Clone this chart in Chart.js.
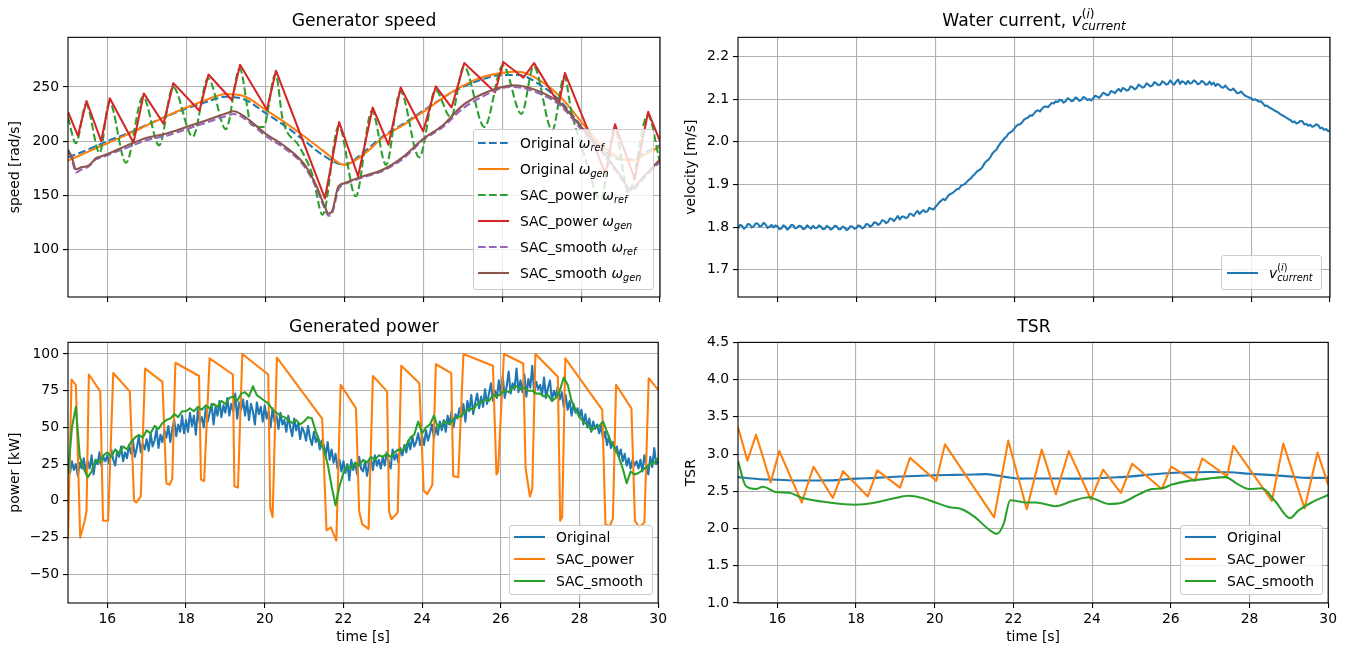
<!DOCTYPE html>
<html><head><meta charset="utf-8">
<script src="https://cdn.jsdelivr.net/npm/chart.js@4.4.1/dist/chart.umd.min.js"></script>
<style>
html,body{margin:0;padding:0;background:#fff;}
body{width:1352px;height:648px;position:relative;overflow:hidden;font-family:'DejaVu Sans',sans-serif;color:#000;}
canvas{position:absolute;}
.title{position:absolute;font-size:17.2px;line-height:20px;height:20px;text-align:center;white-space:nowrap;}
.leg{position:absolute;background:rgba(255,255,255,0.8);border:1px solid #cccccc;border-radius:3px;font-size:13.9px;box-sizing:border-box;}
.m{font-style:italic;}
.m sub{font-size:70%;vertical-align:-0.3em;line-height:0;}
.ssw{position:relative;}
.sb{font-size:70%;font-style:italic;position:relative;top:0.3em;}
.sp{font-size:70%;position:absolute;left:0;top:-0.2em;line-height:1;white-space:nowrap;}
</style></head>
<body>
<canvas id="c1" width="670" height="285" style="left:0px;top:25px"></canvas>
<canvas id="c2" width="664" height="285" style="left:676px;top:25px"></canvas>
<canvas id="c3" width="670" height="318" style="left:0px;top:330px"></canvas>
<canvas id="c4" width="664" height="318" style="left:676px;top:330px"></canvas>
<div class="title" style="left:68px;width:592px;top:10px">Generator speed</div>
<div class="title" style="left:738px;width:592px;top:10px">Water current, <span class="m">v</span><span class="ssw"><span class="sb">current</span><span class="sp">(<i>i</i>)</span></span></div>
<div class="title" style="left:68px;width:592px;top:316px">Generated power</div>
<div class="title" style="left:738px;width:592px;top:316px">TSR</div>
<script>
// ---------- shared axis ticks ----------
const xTicks = [16, 18, 20, 22, 24, 26, 28, 30];
const speedTicks = [100, 150, 200, 250];
const velTicks = [1.7, 1.8, 1.9, 2.0, 2.1, 2.2];
const powerTicks = [-50, -25, 0, 25, 50, 75, 100];
const tsrTicks = [1.0, 1.5, 2.0, 2.5, 3.0, 3.5, 4.0, 4.5];

// ---------- Generator speed ----------
const origT = [15,15.5,16,16.5,17,17.5,18,18.5,19,19.5,20,20.5,21,21.5,22,22.5,23,23.5,24,24.5,25,25.5,26,26.4,27,27.5,28,28.5,29,29.3,29.6,30];
const origRef = [185,192,200,207,215,223,230,236,241,238,226,214,200,186,178,190,205,216,228,240,250,257,261,261,251,236,214,194,183,183,189,196];
const origGen = [182,190,198,206,214.5,223,231,238,243.5,241,229,217,204,190,178,188,204,215,227,240,251,259,263,264,255,240,218,197,184,182,187,195];

const spRefT = [15.0,15.2,15.46,15.8,16.05,16.47,16.9,17.31,17.66,18.16,18.55,19.0,19.35,19.65,19.95,20.26,20.44,20.86,21.2,21.45,21.86,22.29,22.7,23.06,23.42,23.9,24.31,24.7,25.03,25.55,26.02,26.49,26.8,27.27,27.58,27.75,28.1,28.5,28.85,29.2,29.69,30.0];
const spRef = [222,198,234,189,236,180,241,196,250,204,258,211,267,215,213,262,220,195,168,132,214,149,228,178,246,185,247,222,269,213,270,225,269,210,260,228,185,146,212,152,224,180];

const spGenT = [15.0,15.25,15.47,15.84,16.06,16.66,16.92,17.42,17.67,18.33,18.56,19.15,19.36,20.04,20.27,21.51,21.87,22.35,22.72,23.12,23.43,24.0,24.32,24.72,25.04,25.82,26.03,26.54,26.81,27.44,27.59,28.62,28.86,29.36,29.7,30.0];
const spGen = [227,205,237,200,239.5,198.5,244,216,253.5,228,261.5,238,270.5,229,265,147,217.5,167.5,231,196.5,249.5,209,250.5,231,272,245,273,258.5,272,234,263,170,215.5,165,227,200];

const ssT = [15,15.1,15.2,15.35,15.5,15.6,15.7,15.85,16,16.5,17,17.5,18,18.5,19,19.2,19.5,20,20.5,21,21.3,21.5,21.6,21.7,21.85,22,22.35,23,23.5,24,24.5,25,25.5,26,26.3,27,27.5,28,28.5,29,29.25,29.6,30];
const ssRef = [190,183,171,174,176,179,183,185,187,194,201,205,211,217,223,225,220,205,193,176,156,138,131,134,155,160,165,173,184,201,213,230,241,249,250,243,232,211,191,166,154,166,181];
const ssGen = [192,185,174,176,177,180,184,186,188,196,203,207,213,219,225.5,227.5,222,207,195,178,158,140,133,136,158,161,166,174,185.7,202,214.6,233,243.5,250,251.5,245,234,213,193,168,156,168,183];

// ---------- Water current (0.05 s samples) ----------
const velocity = [
1.797,1.805,1.803,1.796,1.800,1.807,1.806,1.799,1.802,1.809,1.808,1.801,1.803,1.810,1.806,1.798,1.801,1.805,1.799,1.804,
1.802,1.795,1.797,1.804,1.801,1.794,1.798,1.805,1.804,1.797,1.799,1.803,1.802,1.795,1.797,1.804,1.800,1.796,1.803,1.798,
1.798,1.804,1.801,1.795,1.796,1.803,1.800,1.794,1.797,1.803,1.802,1.795,1.795,1.801,1.799,1.793,1.796,1.802,1.801,1.796,
1.798,1.804,1.802,1.797,1.800,1.807,1.806,1.801,1.804,1.811,1.810,1.805,1.808,1.816,1.815,1.809,1.812,1.820,1.819,1.814,
1.820,1.826,1.818,1.824,1.825,1.821,1.823,1.831,1.830,1.826,1.833,1.838,1.831,1.836,1.840,1.835,1.837,1.845,1.843,1.841,
1.847,1.852,1.858,1.862,1.866,1.863,1.870,1.876,1.878,1.881,1.885,1.889,1.890,1.897,1.899,1.901,1.906,1.911,1.914,1.920,
1.924,1.930,1.933,1.936,1.942,1.950,1.955,1.958,1.965,1.973,1.978,1.982,1.990,1.997,2.002,2.008,2.012,2.019,2.022,2.025,
2.031,2.037,2.040,2.041,2.046,2.052,2.055,2.057,2.062,2.061,2.066,2.072,2.074,2.071,2.077,2.082,2.083,2.081,2.086,2.091,
2.090,2.095,2.093,2.099,2.097,2.092,2.095,2.102,2.100,2.095,2.097,2.104,2.101,2.096,2.098,2.105,2.103,2.098,2.100,2.097,
2.102,2.108,2.106,2.103,2.108,2.115,2.113,2.109,2.111,2.119,2.117,2.114,2.120,2.124,2.118,2.126,2.124,2.120,2.122,2.130,
2.128,2.123,2.126,2.134,2.131,2.127,2.129,2.137,2.134,2.130,2.132,2.140,2.137,2.133,2.134,2.142,2.139,2.134,2.136,2.144,
2.138,2.134,2.141,2.146,2.136,2.142,2.140,2.135,2.143,2.137,2.138,2.144,2.141,2.135,2.137,2.143,2.140,2.134,2.135,2.141,
2.134,2.139,2.131,2.136,2.133,2.128,2.127,2.132,2.126,2.122,2.121,2.125,2.119,2.114,2.115,2.118,2.112,2.108,2.106,2.104,
2.103,2.098,2.100,2.097,2.094,2.095,2.090,2.084,2.085,2.081,2.079,2.076,2.073,2.071,2.068,2.064,2.062,2.059,2.056,2.053,
2.051,2.046,2.048,2.043,2.045,2.049,2.048,2.041,2.042,2.038,2.040,2.035,2.037,2.041,2.039,2.032,2.033,2.028,2.030,2.025,
2.027];

// ---------- Generated power ----------
const powerOrig = [
23,19,27,21,25,17,26,22,29,20,
27,22,31,18,28,25,33,24,30,27,
31,25,35,28,24,34,30,37,27,33,
29,38,32,41,30,36,44,33,39,35,
42,34,46,37,41,49,36,45,40,48,
43,51,40,49,55,44,52,47,58,46,
55,47,60,51,58,45,62,53,57,50,
63,54,60,66,52,64,58,68,57,65,
60,70,58,66,61,73,56,67,62,69,
58,68,55,66,61,52,67,59,64,54,
65,56,61,50,63,54,58,49,60,52,
55,47,58,50,44,56,48,53,42,50,
47,41,51,43,38,47,40,44,35,41,
38,31,40,28,35,26,32,22,28,20,
27,19,25,14,28,21,26,18,30,22,
20,27,17,25,29,21,31,24,28,22,
30,24,33,27,22,35,28,32,26,36,
31,38,33,41,35,44,37,40,46,38,
44,38,48,41,46,52,43,50,45,54,
48,55,47,58,52,61,50,59,56,63,
57,66,54,68,61,72,59,67,73,63,
71,64,76,66,73,80,68,75,70,82,
72,85,70,78,88,73,80,76,90,74,
82,74,86,71,83,77,92,73,81,76,
79,72,84,70,77,82,68,75,71,78,
69,74,64,72,62,68,58,66,60,63,
57,62,52,59,50,56,47,54,49,52,
46,51,42,47,38,44,36,40,33,37,
30,35,27,32,24,29,22,28,24,27,
22,28,20,31,24,18,30,23,36,25,
27];
const powerSacT = [15.0,15.09,15.2,15.31,15.42,15.47,15.53,15.82,15.89,16.02,16.15,16.57,16.68,16.74,16.85,16.96,17.40,17.5,17.58,17.65,17.73,18.33,18.38,18.46,18.6,19.19,19.23,19.32,19.43,20.09,20.14,20.2,20.31,21.46,21.57,21.68,21.82,21.93,22.32,22.4,22.48,22.64,22.75,23.11,23.16,23.22,23.38,23.47,23.93,24.04,24.13,24.26,24.35,24.74,24.79,24.92,25.05,25.80,25.89,25.93,26.08,26.57,26.63,26.74,26.80,26.88,27.45,27.51,27.56,27.64,28.58,28.66,28.77,28.85,28.93,29.32,29.41,29.52,29.65,29.76,30.0];
const powerSac = [-26,82.5,79,-25,-14,-7,86,74.5,-13.5,-13.5,87,74.5,0,-1,3,90,81,12,11,15,94,85,14.5,13.5,97,86,10,9,100,86,-4.5,-11,97.5,56,-20,-18,-27,79,63,-7,-16,-19,85,74.5,-7,-12.5,-8,92,80,7,4.5,11,93,87,17,16,100,92,18,20,100,93.5,22.5,3,8,100,84.5,-13.5,-11,97,62,-16,-17,-12,79,63,-13.5,-18,-14.7,83.5,75.5];
const powerSmooth = [
18,50,64,30,22,16,20,28,26,31,
33,30,35,32,37,35,40,43,45,43,
48,46,51,49,53,55,56,59,57,61,
61,63,61,64,62,65,63,66,64,68,
66,70,71,68,73,74,71,78,72,70,
68,66,62,60,58,57,55,53,55,52,
54,57,56,47,40,35,25,10,-3,10,
19,24,22,26,24,28,26,30,28,31,
30,32,30,33,35,34,38,43,45,54,
46,50,52,58,50,52,54,52,56,57,
58,61,63,62,66,67,69,68,72,71,
73,75,74,77,78,76,77,75,75,73,
73,71,72,68,70,75,84,79,68,62,
57,54,52,48,50,51,54,47,40,36,
30,22,12,20,18,19,21,23,25,26,
29];

// ---------- TSR ----------
const tsrOrigT = [15,15.5,16,16.5,17,17.5,18,18.5,19,19.5,20,20.5,21,21.3,21.6,21.9,22.2,22.5,23,23.5,24,24.5,25,25.5,26,26.5,27,27.5,28,28.5,29,29.5,30];
const tsrOrig = [2.69,2.665,2.655,2.645,2.645,2.65,2.67,2.68,2.695,2.705,2.715,2.72,2.725,2.73,2.71,2.685,2.67,2.672,2.672,2.67,2.672,2.685,2.70,2.725,2.745,2.755,2.76,2.755,2.735,2.72,2.70,2.68,2.68];
const tsrSacT = [15.0,15.24,15.46,15.83,16.05,16.62,16.92,17.41,17.67,18.30,18.54,19.12,19.37,20.04,20.26,21.51,21.87,22.34,22.72,23.08,23.41,23.97,24.28,24.73,25.02,25.77,26.01,26.61,26.80,27.43,27.59,28.57,28.86,29.40,29.73,30.0];
const tsrSac = [3.36,2.91,3.26,2.62,3.04,2.35,2.83,2.41,2.77,2.43,2.78,2.55,2.95,2.64,3.13,2.15,3.18,2.26,3.06,2.46,3.04,2.39,2.79,2.48,2.87,2.53,2.83,2.64,2.94,2.70,3.11,2.37,3.14,2.27,3.02,2.59];
const tsrSmoothT = [15.0,15.2,15.46,15.63,15.96,16.3,16.64,17.31,17.99,18.5,19.0,19.34,19.68,20.02,20.35,20.69,21.03,21.37,21.58,21.75,21.92,22.3,22.57,23.07,23.5,23.92,24.1,24.43,24.77,25.19,25.52,25.78,26.03,26.45,26.96,27.38,27.72,27.98,28.31,28.65,29.03,29.24,29.58,30.0];
const tsrSmooth = [2.91,2.57,2.53,2.56,2.49,2.48,2.41,2.35,2.32,2.35,2.41,2.44,2.41,2.35,2.29,2.26,2.15,1.99,1.93,2.06,2.38,2.35,2.35,2.30,2.37,2.42,2.39,2.33,2.35,2.46,2.53,2.54,2.59,2.64,2.67,2.69,2.59,2.53,2.54,2.37,2.14,2.24,2.35,2.45];

// ---------- sample times for uniformly sampled series ----------
const t05 = Array.from({length: powerOrig.length}, (_, i) => +(15 + i * 0.05).toFixed(2));
const t10 = Array.from({length: powerSmooth.length}, (_, i) => +(15 + i * 0.1).toFixed(2));

// ---------- styling helpers ----------
const C = {blue:'#1f77b4', orange:'#ff7f0e', green:'#2ca02c', red:'#d62728', purple:'#9467bd', brown:'#8c564b'};
const DASH = [7.7, 3.3];
const FONT = {family:'DejaVu Sans', size:13.9};
function pts(T, V){ return T.map((t, i) => ({x:t, y:V[i]})); }
function ds(label, T, V, color, order, extra){
  return Object.assign({label, data:pts(T, V), borderColor:color, backgroundColor:color, borderWidth:2.08,
    pointRadius:0, fill:false, tension:0, borderJoinStyle:'round', order}, extra || {});
}
const smooth = {cubicInterpolationMode:'monotone'};

const frame = {id:'frame', afterDatasetsDraw(c){
  const {ctx, chartArea:a} = c; ctx.save(); ctx.strokeStyle = '#000'; ctx.lineWidth = 1.1;
  ctx.strokeRect(a.left, a.top, a.right - a.left, a.bottom - a.top); ctx.restore();
}};

function grid(){ return {color:'#b0b0b0', lineWidth:1.1, drawTicks:true, tickLength:5, tickColor:'#000', tickWidth:1.1}; }

function makeChart(id, cfg){
  return new Chart(document.getElementById(id), {
    type:'line',
    data:{datasets:cfg.datasets},
    options:{
      responsive:false, animation:false, events:[],
      layout:{padding:{top:10, right:cfg.padR, left:0, bottom:0}},
      plugins:{legend:{display:false}, tooltip:{enabled:false}, title:{display:false}},
      scales:{
        x:{type:'linear', min:15, max:30,
          afterBuildTicks:s => { s.ticks = xTicks.map(v => ({value:v})); },
          afterFit:s => { s.height = cfg.xH; },
          border:{display:false}, grid:grid(),
          ticks:{display:cfg.xLabels, color:'#000', font:FONT, padding:3, maxRotation:0, autoSkip:false, callback:v => String(v)},
          title:{display:cfg.xLabels, text:'time [s]', color:'#000', font:FONT, padding:{top:0, bottom:2}}
        },
        y:{type:'linear', min:cfg.yMin, max:cfg.yMax,
          afterBuildTicks:s => { s.ticks = cfg.yTicks.map(v => ({value:v})); },
          afterFit:s => { s.width = cfg.yW; },
          border:{display:false}, grid:grid(),
          ticks:{color:'#000', font:FONT, padding:4, autoSkip:false, callback:cfg.yFmt},
          title:{display:true, text:cfg.yTitle, color:'#000', font:FONT, padding:{top:7, bottom:0}}
        }
      }
    },
    plugins:[frame]
  });
}
const minus = v => (v < 0 ? '\u2212' + Math.abs(v) : String(v));

makeChart('c1', {padR:10, xH:13, xLabels:false, yW:68, yMin:56, yMax:295.8, yTicks:speedTicks, yTitle:'speed [rad/s]', yFmt:v => String(v),
  datasets:[
    ds('Original ω_ref', origT, origRef, C.blue, 6, Object.assign({borderDash:DASH}, smooth)),
    ds('Original ω_gen', origT, origGen, C.orange, 5, smooth),
    ds('SAC_power ω_ref', spRefT, spRef, C.green, 4, Object.assign({borderDash:DASH}, smooth)),
    ds('SAC_power ω_gen', spGenT, spGen, C.red, 3),
    ds('SAC_smooth ω_ref', ssT, ssRef, C.purple, 2, Object.assign({borderDash:DASH}, smooth)),
    ds('SAC_smooth ω_gen', ssT, ssGen, C.brown, 1, smooth)
  ]});
makeChart('c2', {padR:10, xH:13, xLabels:false, yW:62, yMin:1.636, yMax:2.245, yTicks:velTicks, yTitle:'velocity [m/s]', yFmt:v => v.toFixed(1),
  datasets:[ ds('v current', t05, velocity, C.blue, 1) ]});
makeChart('c3', {padR:10, xH:45, xLabels:true, yW:68, yMin:-69.5, yMax:107.9, yTicks:powerTicks, yTitle:'power [kW]', yFmt:minus,
  datasets:[
    ds('Original', t05, powerOrig, C.blue, 3),
    ds('SAC_power', powerSacT, powerSac, C.orange, 2),
    ds('SAC_smooth', t10, powerSmooth, C.green, 1)
  ]});
makeChart('c4', {padR:10, xH:45, xLabels:true, yW:62, yMin:1.0, yMax:4.5, yTicks:tsrTicks, yTitle:'TSR', yFmt:v => v.toFixed(1),
  datasets:[
    ds('Original', tsrOrigT, tsrOrig, C.blue, 3, smooth),
    ds('SAC_power', tsrSacT, tsrSac, C.orange, 2),
    ds('SAC_smooth', tsrSmoothT, tsrSmooth, C.green, 1, smooth)
  ]});

// ---------- legends ----------
function legend(left, top, width, rowH, padB, lineX, lineW, textX, items){
  const d = document.createElement('div'); d.className = 'leg';
  d.style.cssText = `left:${left}px;top:${top}px;width:${width}px;height:${items.length * rowH + padB}px;`;
  let h = '';
  items.forEach((it, i) => {
    const y = i * rowH + rowH / 2;
    h += `<svg style="position:absolute;left:${lineX}px;top:${y - 3}px" width="${lineW}" height="6"><line x1="0" y1="3" x2="${lineW}" y2="3" stroke="${it.c}" stroke-width="2.08"${it.dash ? ' stroke-dasharray="7.7 3.3"' : ''}/></svg>`;
    h += `<div style="position:absolute;left:${textX}px;top:${i * rowH}px;height:${rowH}px;line-height:${rowH}px;white-space:nowrap">${it.t}</div>`;
  });
  d.innerHTML = h; document.body.appendChild(d);
}
const w = s => `<span class="m">ω<sub>${s}</sub></span>`;
legend(473, 129, 181, 26, 5, 4, 31, 46, [
  {c:C.blue, dash:true, t:'Original ' + w('ref')},
  {c:C.orange, t:'Original ' + w('gen')},
  {c:C.green, dash:true, t:'SAC_power ' + w('ref')},
  {c:C.red, t:'SAC_power ' + w('gen')},
  {c:C.purple, dash:true, t:'SAC_smooth ' + w('ref')},
  {c:C.brown, t:'SAC_smooth ' + w('gen')}
]);
legend(1221, 255, 101, 34, 1, 5, 31, 47, [
  {c:C.blue, t:'<span class="m">v</span><span class="ssw"><span class="sb">current</span><span class="sp">(<i>i</i>)</span></span>'}
]);
const plain = [{c:C.blue, t:'Original'}, {c:C.orange, t:'SAC_power'}, {c:C.green, t:'SAC_smooth'}];
legend(509, 525, 144, 22, 4, 4, 31, 46, plain);
legend(1180, 525, 143, 22, 4, 4, 31, 46, plain);
</script>
</body></html>
